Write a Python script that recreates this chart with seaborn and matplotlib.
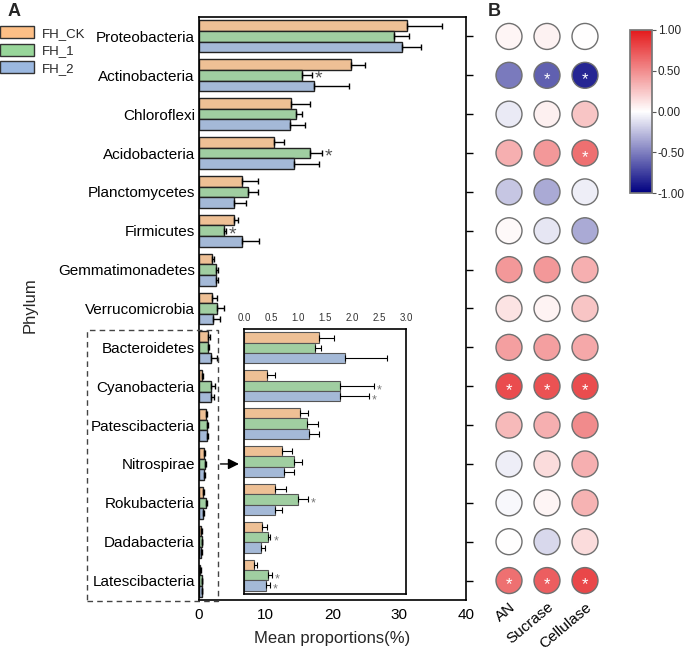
import numpy as np
import pandas as pd
import matplotlib
matplotlib.use("Agg")
import matplotlib.pyplot as plt
import seaborn as sns
from matplotlib.colors import LinearSegmentedColormap, Normalize
from matplotlib.cm import ScalarMappable
from matplotlib.patches import Rectangle, Patch


# ── data ───────────────────────────────────────────────────────────────────────

phyla = ["Proteobacteria", "Actinobacteria", "Chloroflexi", "Acidobacteria",
         "Planctomycetes", "Firmicutes", "Gemmatimonadetes", "Verrucomicrobia",
         "Bacteroidetes", "Cyanobacteria", "Patescibacteria", "Nitrospirae",
         "Rokubacteria", "Dadabacteria", "Latescibacteria"]
groups = ["FH_CK", "FH_1", "FH_2"]

ck_mean  = [31.1, 22.7, 13.8, 11.2, 6.4, 5.3, 2.0, 1.9, 1.39, 0.43, 1.03, 0.70, 0.58, 0.34, 0.19]
ck_err   = [5.3, 2.1, 2.9, 1.6, 2.4, 0.5, 0.3, 0.8, 0.28, 0.15, 0.16, 0.19, 0.19, 0.09, 0.05]
fh1_mean = [29.2, 15.4, 14.5, 16.6, 7.3, 3.7, 2.5, 2.7, 1.32, 1.77, 1.17, 0.93, 1.00, 0.45, 0.45]
fh1_err  = [2.3, 1.5, 0.9, 1.8, 1.6, 0.4, 0.3, 1.0, 0.11, 0.64, 0.20, 0.15, 0.19, 0.04, 0.06]
fh2_mean = [30.4, 17.2, 13.7, 14.2, 5.3, 6.4, 2.5, 2.1, 1.87, 1.77, 1.21, 0.74, 0.57, 0.32, 0.40]
fh2_err  = [2.8, 5.3, 2.2, 3.8, 1.8, 2.6, 0.3, 1.1, 0.77, 0.55, 0.18, 0.19, 0.14, 0.07, 0.08]

inset_phyla = phyla[8:]
bar_sig = [("Actinobacteria", "FH_1"), ("Acidobacteria", "FH_1"), ("Firmicutes", "FH_1"),
           ("Cyanobacteria", "FH_1"), ("Cyanobacteria", "FH_2"), ("Rokubacteria", "FH_1"),
           ("Dadabacteria", "FH_1"), ("Latescibacteria", "FH_1"), ("Latescibacteria", "FH_2")]

enzymes = ["AN", "Sucrase", "Cellulase"]
corr_an        = [0.04, -0.52, -0.08, 0.35, -0.22, 0.03, 0.45, 0.12, 0.42, 0.78, 0.30, -0.07, -0.03, 0.00, 0.62]
corr_sucrase   = [0.06, -0.62, 0.07, 0.45, -0.33, -0.10, 0.45, 0.05, 0.42, 0.75, 0.35, 0.15, 0.04, -0.15, 0.70]
corr_cellulase = [0.00, -0.85, 0.25, 0.62, -0.07, -0.33, 0.35, 0.25, 0.38, 0.78, 0.50, 0.35, 0.33, 0.15, 0.80]
corr_sig = [("Actinobacteria", "Sucrase"), ("Actinobacteria", "Cellulase"),
            ("Acidobacteria", "Cellulase"),
            ("Cyanobacteria", "AN"), ("Cyanobacteria", "Sucrase"), ("Cyanobacteria", "Cellulase"),
            ("Latescibacteria", "AN"), ("Latescibacteria", "Sucrase"), ("Latescibacteria", "Cellulase")]

group_colors = ["#fdbf86", "#98d69a", "#9bb8e0"]

bars = pd.concat([
    pd.DataFrame({"phylum": phyla, "group": g, "mean": m, "err": e})
    for g, m, e in zip(groups, [ck_mean, fh1_mean, fh2_mean], [ck_err, fh1_err, fh2_err])
], ignore_index=True)

corr = pd.DataFrame(
    [(p, e, r) for p, *rs in zip(phyla, corr_an, corr_sucrase, corr_cellulase)
     for e, r in zip(enzymes, rs)],
    columns=["phylum", "enzyme", "r"],
)

# ── style ──────────────────────────────────────────────────────────────────────

sns.set_theme(style="white")
plt.rcParams["font.family"] = ["Liberation Sans", "DejaVu Sans"]
plt.rcParams["axes.unicode_minus"] = False

W, H = 685, 650
fig = plt.figure(figsize=(W / 100, H / 100), dpi=100)


def fbox(x0, y0, x1, y1):
    return [x0 / W, 1 - y1 / H, (x1 - x0) / W, (y1 - y0) / H]


def draw_bars(ax, sub, order, edge, lw, elw, capsize, star_size, star_color, skip_stars=()):
    sns.barplot(data=sub, x="mean", y="phylum", hue="group", order=order,
                hue_order=groups, palette=group_colors, orient="h", width=0.82,
                errorbar=None, edgecolor=edge, linewidth=lw, legend=False, ax=ax)
    err = sub.set_index(["phylum", "group"])["err"]
    for cont, g in zip(ax.containers, groups):
        for p in cont:
            yc = p.get_y() + p.get_height() / 2
            ph = order[int(round(yc))]
            x = p.get_width()
            e = err[(ph, g)]
            ax.errorbar(x, yc, xerr=[[0], [e]], fmt="none", ecolor="black",
                        elinewidth=elw, capsize=capsize, capthick=elw)
            if (ph, g) in bar_sig and ph not in skip_stars:
                ax.annotate("*", xy=(x + e, yc), xytext=(2, -3), textcoords="offset points",
                            ha="left", va="center", fontsize=star_size, color=star_color)


# ── panel A: main bars ─────────────────────────────────────────────────────────

ax = fig.add_axes(fbox(199, 17, 466, 600))
# stars of the zoomed phyla are shown in the inset only
draw_bars(ax, bars, phyla, "#222222", 1.0, 1.0, 2.5, 14, "#555555", skip_stars=inset_phyla)
ax.set_xlim(0, 40)
ax.set_ylim(len(phyla) - 0.5, -0.5)
ax.set_xticks([0, 10, 20, 30, 40])
ax.tick_params(axis="x", length=0, pad=6, labelsize=11, colors="black")
ax.tick_params(axis="y", left=False, right=True, labelleft=True, labelright=False,
               length=5, width=1, direction="out", labelsize=11, colors="black", pad=-2)
ax.set_ylabel("")
ax.set_xlabel("Mean proportions(%)", fontsize=12, labelpad=6)
for s in ax.spines.values():
    s.set_color("black")
    s.set_linewidth(1.2)

fig.text(8 / W, 1 - 12 / H, "A", fontsize=13, fontweight="bold", va="center")
fig.text(30 / W, 1 - 305 / H, "Phylum", fontsize=12, rotation=90, va="center", ha="center")

handles = [Patch(facecolor=c, edgecolor="#333333", linewidth=1) for c in group_colors]
fig.legend(handles, groups, loc="upper left", bbox_to_anchor=(0, 1 - 26 / H),
           frameon=False, fontsize=9.5, handlelength=2.6, handleheight=1.05,
           labelspacing=0.3, handletextpad=0.6, borderpad=0, borderaxespad=0)

fig.patches.append(Rectangle((87 / W, 1 - 601 / H), 131 / W, 271 / H, transform=fig.transFigure,
                             fill=False, ls=(0, (4, 3)), ec="#444444", lw=1))
ax.annotate("", xy=(6.4, phyla.index("Nitrospirae")), xytext=(2.8, phyla.index("Nitrospirae")),
            arrowprops=dict(arrowstyle="-|>", color="black", lw=1, mutation_scale=16),
            annotation_clip=False)

# ── inset ──────────────────────────────────────────────────────────────────────

axi = fig.add_axes(fbox(244, 329, 406, 594))
draw_bars(axi, bars[bars["phylum"].isin(inset_phyla)], inset_phyla,
          "#555555", 0.8, 0.8, 2, 9, "#777777")
axi.set_xlim(0, 3)
axi.set_ylim(len(inset_phyla) - 0.5, -0.5)
axi.set_xticks(np.arange(0, 3.01, 0.5))
axi.set_xticklabels([f"{v:.1f}" for v in np.arange(0, 3.01, 0.5)])
axi.xaxis.tick_top()
axi.tick_params(axis="x", length=0, pad=4, labelsize=7, colors="#333333")
axi.set_yticks([])
axi.set_xlabel("")
axi.set_ylabel("")
for s in axi.spines.values():
    s.set_color("black")
    s.set_linewidth(1.2)

# ── panel B: correlation circles ───────────────────────────────────────────────

cmap = LinearSegmentedColormap.from_list("corr", ["#000080", "#ffffff", "#e41a1c"])
axb = fig.add_axes(fbox(490, 17, 604, 600))
sns.scatterplot(data=corr, x="enzyme", y="phylum", hue="r", palette=cmap,
                hue_norm=(-1, 1), s=350, edgecolor="#707070", linewidth=1,
                legend=False, ax=axb)
for ph, en in corr_sig:
    axb.annotate("*", xy=(enzymes.index(en), phyla.index(ph)), xytext=(0, -3),
                 textcoords="offset points", ha="center", va="center",
                 fontsize=12, color="white")
axb.set_xlim(-0.5, 2.5)
axb.set_ylim(len(phyla) - 0.5, -0.5)
axb.set_yticks([])
axb.set_xlabel("")
axb.set_ylabel("")
axb.tick_params(axis="x", length=0, pad=0, labelsize=11, colors="black")
plt.setp(axb.get_xticklabels(), rotation=40, ha="right", rotation_mode="anchor")
for s in axb.spines.values():
    s.set_visible(False)
axb.patch.set_alpha(0)
fig.text(488 / W, 1 - 12 / H, "B", fontsize=13, fontweight="bold", va="center")

cax = fig.add_axes(fbox(630, 30, 652, 193))
cb = fig.colorbar(ScalarMappable(norm=Normalize(-1, 1), cmap=cmap), cax=cax,
                  ticks=[-1, -0.5, 0, 0.5, 1])
cb.ax.yaxis.set_major_formatter("{x:.2f}")
cb.outline.set_edgecolor("#777777")
cb.ax.tick_params(labelsize=8.5, length=3, width=0.8, color="#555555", pad=1)

fig.savefig("out.png", dpi=100)
